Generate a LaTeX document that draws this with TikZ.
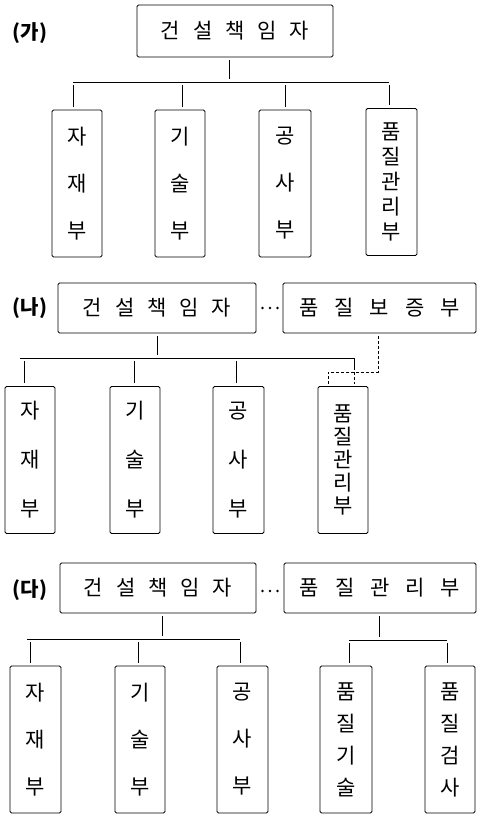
\documentclass[tikz,border=0pt]{standalone}
\usepackage{fontspec}
\newfontfamily\kfont{Noto Sans CJK KR}
\newcommand\kgap{\hspace{13pt}}
\newcommand\kgapw{\hspace{16pt}}
\begin{document}
\begin{tikzpicture}[x=1pt,y=-1pt,
  box/.style={draw, rounded corners=1.5pt, line width=0.8pt, inner sep=0pt, align=center, font=\kfont\fontsize{21}{24}\selectfont},
  vthree/.style={box, minimum width=50pt, minimum height=147pt, font=\kfont\fontsize{21}{47}\selectfont},
  vfour/.style={box, minimum width=51pt, minimum height=147pt, font=\kfont\fontsize{21}{32}\selectfont},
  vfive/.style={box, minimum width=51pt, minimum height=147pt, font=\kfont\fontsize{21}{25}\selectfont},
  lab/.style={font=\kfont\bfseries\fontsize{20}{22}\selectfont, inner sep=0pt},
  dots/.style={inner sep=0pt, minimum size=0pt},
  ln/.style={line width=0.8pt},
  gap/.style={shorten <=3pt, shorten >=3pt},
  dl/.style={line width=0.8pt, dash pattern=on 3pt off 2pt}
]
\useasboundingbox (0,0) rectangle (477,814);

% ---------- (가) ----------
\node[lab] (La) at (30,33) {(가)};
\node[box, minimum width=196pt, minimum height=52pt] (A0) at (235,31) {건\kgap 설\kgap 책\kgap 임\kgap 자};
\node[vthree] (A1) at (77,183.5) {자\\재\\부};
\node[vthree] (A2) at (180,183.5) {기\\술\\부};
\node[vthree, minimum width=52pt] (A3) at (285,183.5) {공\\사\\부};
\node[vfive] (A4) at (391.5,182) {품\\질\\관\\리\\부};
\coordinate (aT) at (229,82);
\coordinate (a1) at (73,82);
\coordinate (a2) at (182,82);
\coordinate (a3) at (285,82);
\coordinate (a4) at (389,82);
\draw[ln, gap] (A0.south -| aT) -- (aT);
\draw[ln] (a1) -- (a4);
\foreach \i in {1,...,4} {\draw[ln, gap] (a\i) -- (a\i |- A\i.north);}

% ---------- (나) ----------
\node[lab] (Lb) at (30,308) {(나)};
\node[box, minimum width=198pt, minimum height=50pt] (B0) at (157,308) {건\kgap 설\kgap 책\kgap 임\kgap 자};
\node[dots] (Bd) at (270,308) {};
\foreach \dx in {-7.5,0,7.5} {\fill ([xshift=\dx pt]Bd) circle (1.3pt);}
\node[box, minimum width=193pt, minimum height=50pt] (B5) at (379.5,308) {품\kgapw 질\kgapw 보\kgapw 증\kgapw 부};
\node[vthree, font=\kfont\fontsize{21}{49}\selectfont] (B1) at (30,460) {자\\재\\부};
\node[vthree, font=\kfont\fontsize{21}{49}\selectfont] (B2) at (135,460) {기\\술\\부};
\node[vthree, minimum width=51pt, font=\kfont\fontsize{21}{49}\selectfont] (B3) at (238.5,460) {공\\사\\부};
\node[vfive, minimum width=50pt, font=\kfont\fontsize{21}{23}\selectfont] (B4) at (343,460) {품\\질\\관\\리\\부};
\coordinate (bT) at (157,358);
\coordinate (b1) at (24,358);
\coordinate (b2) at (134,358);
\coordinate (b3) at (236,358);
\coordinate (b4) at (354,358);
\coordinate (b4m) at (354,367);
\coordinate (bq) at (378,372);
\coordinate (bl) at (328,372);
\draw[ln, gap] (B0.south) -- (bT);
\draw[ln] (20,358) coordinate (b0) -- (b4) -- (b4m);
\foreach \i in {1,2,3} {\draw[ln, gap] (b\i) -- (b\i |- B\i.north);}
\draw[dl, shorten >=2pt] (b4m) -- (b4m |- B4.north);
\draw[dl, shorten <=3pt] (B5.south -| bq) -- (bq) -- (bl) -- ([yshift=2pt]bl |- B4.north);

% ---------- (다) ----------
\node[lab] (Lc) at (30,590) {(다)};
\node[box, minimum width=196pt, minimum height=50pt] (C0) at (158,588) {건\kgap 설\kgap 책\kgap 임\kgap 자};
\node[dots] (Cd) at (270,591) {};
\foreach \dx in {-7.5,0,7.5} {\fill ([xshift=\dx pt]Cd) circle (1.3pt);}
\node[box, minimum width=192pt, minimum height=50pt] (C6) at (380,588) {품\kgapw 질\kgapw 관\kgapw 리\kgapw 부};
\node[vthree, minimum width=51pt] (C1) at (35.5,739.5) {자\\재\\부};
\node[vthree] (C2) at (140,739.5) {기\\술\\부};
\node[vthree, minimum width=51pt] (C3) at (242.5,739.5) {공\\사\\부};
\node[vfour, minimum width=52pt] (C4) at (346,739.5) {품\\질\\기\\술};
\node[vfour, minimum width=50pt] (C5) at (450,739.5) {품\\질\\검\\사};
\coordinate (cT) at (162,639);
\coordinate (c1) at (30,639);
\coordinate (c2) at (138,639);
\coordinate (c3) at (240,639);
\coordinate (dT) at (379,640);
\coordinate (c4) at (349,640);
\coordinate (c5) at (447,640);
\draw[ln, gap] (C0.south -| cT) -- (cT);
\draw[ln] (27,639) -- (c3);
\foreach \i in {1,2,3} {\draw[ln, gap] (c\i) -- (c\i |- C\i.north);}
\draw[ln, gap] (C6.south -| dT) -- (dT);
\draw[ln] (c4) -- (c5);
\foreach \i in {4,5} {\draw[ln, gap] (c\i) -- (c\i |- C\i.north);}
\end{tikzpicture}
\end{document}
